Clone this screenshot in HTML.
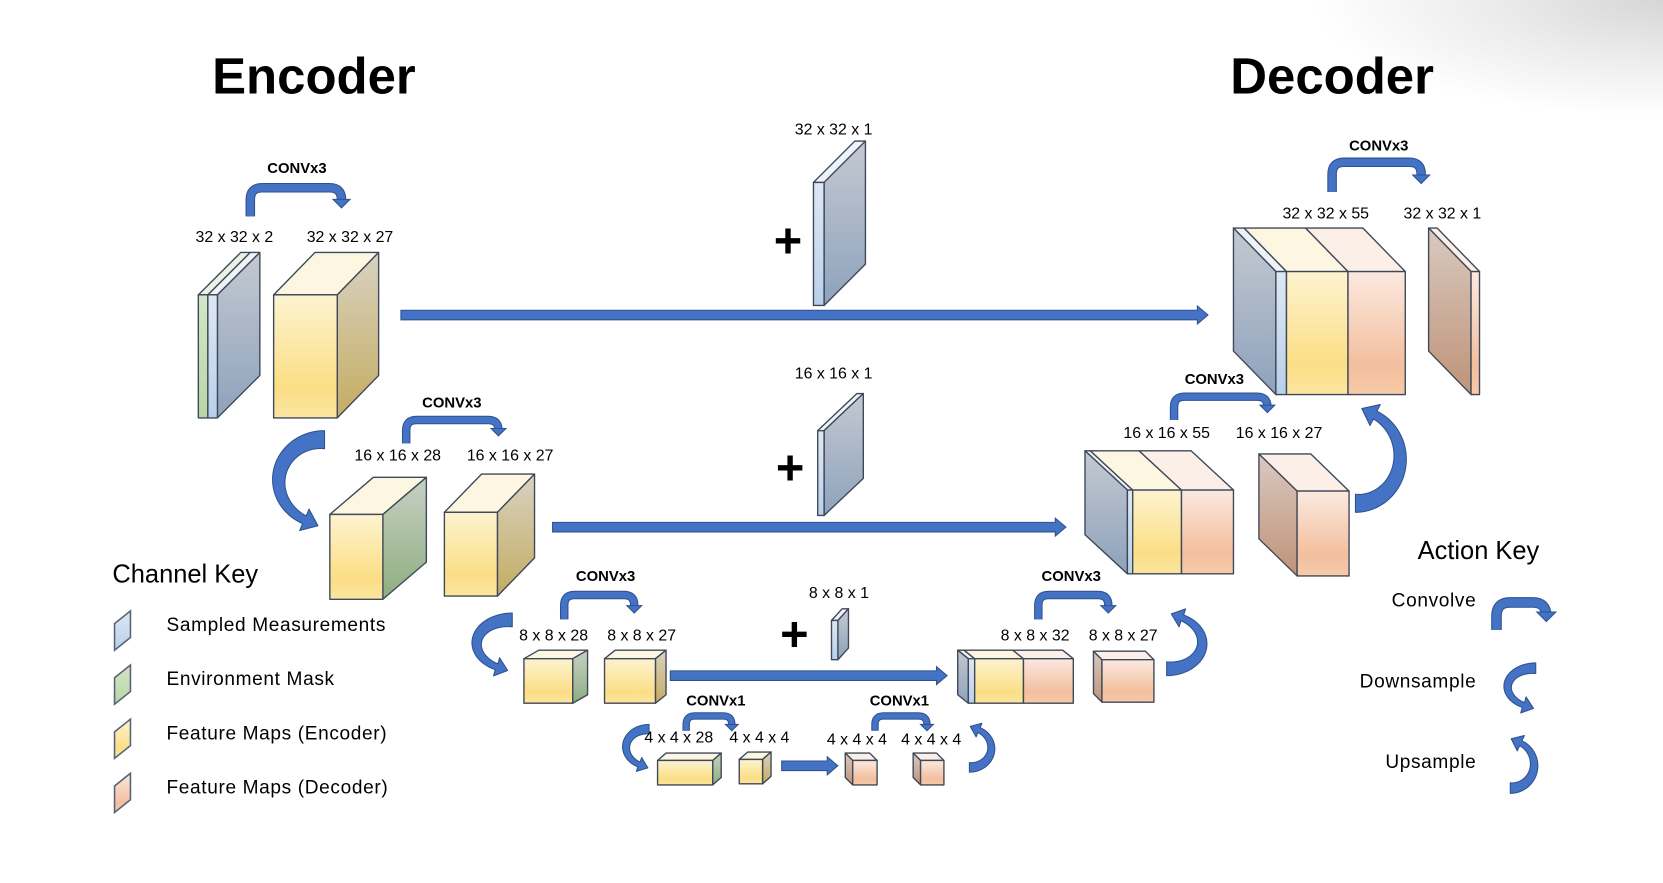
<!DOCTYPE html>
<html><head><meta charset="utf-8">
<style>
html,body{margin:0;padding:0;background:#fff;}
svg{display:block;}
text{font-family:"Liberation Sans",sans-serif;fill:#000;}
.l{font-size:15px;text-anchor:middle;}
.c{font-size:14px;font-weight:bold;text-anchor:middle;}
.k{font-size:18px;letter-spacing:0.6px;}
</style></head><body>
<svg id="s" width="1663" height="883" viewBox="0 0 1568 832.5" preserveAspectRatio="none" xmlns="http://www.w3.org/2000/svg">
<defs>
<radialGradient id="corner" cx="1568" cy="0" r="1" gradientTransform="translate(1568 0) scale(330 110) translate(-1568 0)" gradientUnits="userSpaceOnUse">
<stop offset="0" stop-color="#d6d6d6"/><stop offset="0.5" stop-color="#ececec"/><stop offset="1" stop-color="#fff"/></radialGradient>
<linearGradient id="fY" x1="0" y1="0" x2="0" y2="1"><stop offset="0" stop-color="#fdf3d0"/><stop offset="0.75" stop-color="#fbde85"/><stop offset="1" stop-color="#fbe5a0"/></linearGradient>
<linearGradient id="sY" x1="0" y1="0" x2="0" y2="1"><stop offset="0" stop-color="#d8d2c0"/><stop offset="1" stop-color="#c5ac62"/></linearGradient>
<linearGradient id="fO" x1="0" y1="0" x2="0" y2="1"><stop offset="0" stop-color="#fbe9e0"/><stop offset="0.75" stop-color="#f3bf9e"/><stop offset="1" stop-color="#f6caa8"/></linearGradient>
<linearGradient id="sO" x1="0" y1="0" x2="0" y2="1"><stop offset="0" stop-color="#d9c9c0"/><stop offset="1" stop-color="#bf9378"/></linearGradient>
<linearGradient id="sB" x1="0" y1="0" x2="0" y2="1"><stop offset="0" stop-color="#c4c9d1"/><stop offset="1" stop-color="#8ea2bc"/></linearGradient>
<linearGradient id="fG" x1="0" y1="0" x2="0" y2="1"><stop offset="0" stop-color="#d3e6c6"/><stop offset="1" stop-color="#b9d6a6"/></linearGradient>
<linearGradient id="sG" x1="0" y1="0" x2="0" y2="1"><stop offset="0" stop-color="#c7d0c4"/><stop offset="1" stop-color="#8fae80"/></linearGradient>
<linearGradient id="fL" x1="0" y1="0" x2="0" y2="1"><stop offset="0" stop-color="#dde8f4"/><stop offset="1" stop-color="#b9d0ea"/></linearGradient>
</defs>
<rect x="0" y="0" width="1568" height="832.5" fill="#fff"/>
<rect x="1200" y="0" width="368" height="120" fill="url(#corner)"/>

<text x="296" y="88" style="font-size:48px;font-weight:bold;text-anchor:middle">Encoder</text>
<text x="1256" y="88" style="font-size:48px;font-weight:bold;text-anchor:middle">Decoder</text>

<g id="g"></g>

<text class="c" x="280" y="163">CONVx3</text>
<text class="l" x="221" y="228">32 x 32 x 2</text>
<text class="l" x="330" y="228">32 x 32 x 27</text>
<text class="l" x="786" y="127">32 x 32 x 1</text>
<text x="743" y="243" style="font-size:46px;font-weight:bold;text-anchor:middle">+</text>
<text class="c" x="1300" y="142">CONVx3</text>
<text class="l" x="1250" y="206">32 x 32 x 55</text>
<text class="l" x="1360" y="206">32 x 32 x 1</text>

<text class="c" x="426" y="384">CONVx3</text>
<text class="l" x="375" y="434">16 x 16 x 28</text>
<text class="l" x="481" y="434">16 x 16 x 27</text>
<text class="l" x="786" y="357">16 x 16 x 1</text>
<text x="745" y="457" style="font-size:46px;font-weight:bold;text-anchor:middle">+</text>
<text class="c" x="1145" y="362">CONVx3</text>
<text class="l" x="1100" y="413">16 x 16 x 55</text>
<text class="l" x="1206" y="413">16 x 16 x 27</text>

<text class="c" x="571" y="548">CONVx3</text>
<text class="l" x="522" y="604">8 x 8 x 28</text>
<text class="l" x="605" y="604">8 x 8 x 27</text>
<text class="l" x="791" y="564">8 x 8 x 1</text>
<text x="749" y="614" style="font-size:46px;font-weight:bold;text-anchor:middle">+</text>
<text class="c" x="1010" y="548">CONVx3</text>
<text class="l" x="976" y="604">8 x 8 x 32</text>
<text class="l" x="1059" y="604">8 x 8 x 27</text>

<text class="c" x="675" y="665">CONVx1</text>
<text class="l" x="640" y="700">4 x 4 x 28</text>
<text class="l" x="716" y="700">4 x 4 x 4</text>
<text class="c" x="848" y="665">CONVx1</text>
<text class="l" x="808" y="702">4 x 4 x 4</text>
<text class="l" x="878" y="702">4 x 4 x 4</text>

<text x="106" y="549" style="font-size:24px">Channel Key</text>
<text class="k" x="157" y="595">Sampled Measurements</text>
<text class="k" x="157" y="646">Environment Mask</text>
<text class="k" x="157" y="697">Feature Maps (Encoder)</text>
<text class="k" x="157" y="748">Feature Maps (Decoder)</text>

<text x="1394" y="527" style="font-size:24px;text-anchor:middle">Action Key</text>
<text class="k" x="1392" y="572" style="text-anchor:end">Convolve</text>
<text class="k" x="1392" y="648" style="text-anchor:end">Downsample</text>
<text class="k" x="1392" y="724" style="text-anchor:end">Upsample</text>
</svg>
<script>
var NS="http://www.w3.org/2000/svg",G=document.getElementById("g");
function el(t,a){var e=document.createElementNS(NS,t);for(var k in a)e.setAttribute(k,a[k]);G.appendChild(e);return e;}
var ST="#3f4858";
function poly(p,f){el("polygon",{points:p.map(function(q){return q.join(",")}).join(" "),fill:f,stroke:ST,"stroke-width":1.3,"stroke-linejoin":"round"});}
function blk(x0,y,ws,h,dx,dy,fr,tp,side){
  var x=x0;
  for(var i=0;i<ws.length;i++){var w=ws[i];
    poly([[x,y],[x+w,y],[x+w+dx,y+dy],[x+dx,y+dy]],tp[i]);x+=w;}
  if(dx>0)poly([[x,y],[x+dx,y+dy],[x+dx,y+dy+h],[x,y+h]],side);
  else poly([[x0,y],[x0+dx,y+dy],[x0+dx,y+dy+h],[x0,y+h]],side);
  x=x0;
  for(var i=0;i<ws.length;i++){poly([[x,y],[x+ws[i],y],[x+ws[i],y+h],[x,y+h]],fr[i]);x+=ws[i];}
}
var Y="url(#fY)",SY="url(#sY)",O="url(#fO)",SO="url(#sO)",B="url(#sB)",GF="url(#fG)",SG="url(#sG)",L="url(#fL)";
var tY="#fdf7e2",tO="#fcefe8",tL="#eef3f9",tG="#eaf2e4";
blk(187,278,[9,9],116,40,-40,[GF,L],[tG,tL],B);
blk(258,278,[60],116,39,-40,[Y],[tY],SY);
blk(767,172,[10],116,39,-39,[L],[tL],B);
blk(1203,256,[10,58,54],116,-40,-41,[L,Y,O],[tL,tY,tO],B);
blk(1387,256,[8],116,-40,-41,[O],[tO],SO);
blk(311,485,[50],80,41,-35,[Y],[tY],SG);
blk(419,483,[50],79,35,-36,[Y],[tY],SY);
blk(771,406,[6],80,37,-35,[L],[tL],B);
blk(1063,462,[5,46,49],79,-40,-37,[L,Y,O],[tL,tY,tO],B);
blk(1223,463,[49],80,-36,-35,[O],[tO],SO);
blk(494,621,[46],42,14,-8,[Y],[tY],SG);
blk(570,621,[48],42,10,-8,[Y],[tY],SY);
blk(784,585,[6],37,10,-11,[L],[tL],B);
blk(913,621,[6,46,47],42,-10,-8,[L,Y,O],[tL,tY,tO],B);
blk(1039,622,[49],40,-8,-8,[O],[tO],SO);
blk(620,717,[52],23,8,-7,[Y],[tY],SG);
blk(697,716,[22],23,8,-7,[Y],[tY],SY);
blk(804,717,[23],23,-7,-7,[O],[tO],SO);
blk(868,717,[22],23,-7,-7,[O],[tO],SO);
var kf=[L,GF,Y,O];
for(var i=0;i<4;i++){var y=580+i*51;
  el("polygon",{points:(108)+","+(y+8)+" "+(123)+","+(y-4)+" "+(123)+","+(y+21)+" "+(108)+","+(y+33),fill:kf[i],stroke:"#5a6478","stroke-width":1.5});}
var BL="#4472c4",BD="#2f528f";
function arrowH(x1,x2,y,t){el("polygon",{points:[x1,y-t/2,x2-10,y-t/2,x2-10,y-t/2-4,x2,y,x2-10,y+t/2+4,x2-10,y+t/2,x1,y+t/2].join(","),fill:BL,stroke:BD,"stroke-width":1});}
arrowH(378,1139,297,9);
arrowH(521,1005,497,9);
arrowH(632,893,637,9);
arrowH(737,790,722,9);
function conv(x1,yb,yt,x2,yh,t,hw){
  var r=t*1.6;
  var d="M"+x1+","+yb+" V"+(yt+r)+" Q"+x1+","+yt+" "+(x1+r)+","+yt+" H"+(x2-r)+" Q"+x2+","+yt+" "+x2+","+(yt+r)+" V"+(yh-hw);
  el("path",{d:d,fill:"none",stroke:BD,"stroke-width":t+2});
  el("path",{d:d,fill:"none",stroke:BL,"stroke-width":t});
  el("polygon",{points:[x2-hw,yh-hw,x2+hw,yh-hw,x2,yh].join(","),fill:BL,stroke:BD,"stroke-width":1});
}
conv(236,204,177,322,196,7,8);
conv(383,418,396,470,411,6,7);
conv(1256,181,153,1340,173,7,8);
conv(1107,396,374,1195,389,6,7);
conv(532,584,561,598,578,6,7);
conv(979,584,561,1045,578,6,7);
conv(647,689,675,690,689,5,6);
conv(825,689,675,874,689,5,6);
conv(1411,594,568,1458,586,8,9);
function cres(cx,cy,rx,ry,a0,a1,t0,t1,hw,hl){
  var N=40,o=[],n=[],d=Math.PI/180;
  for(var i=0;i<=N;i++){var s=i/N,a=(a0+(a1-a0)*s)*d,w=t0+(t1-t0)*s;
    o.push([cx+rx*Math.cos(a),cy+ry*Math.sin(a)]);
    n.push([cx+(rx-w)*Math.cos(a),cy+(ry-w)*Math.sin(a)]);}
  var a=a1*d,w=t1,sg=a1>a0?1:-1,rm=[rx-w/2,ry-w/2];
  var mx=cx+rm[0]*Math.cos(a),my=cy+rm[1]*Math.sin(a);
  var tx=-rm[0]*Math.sin(a)*sg,ty=rm[1]*Math.cos(a)*sg,l=Math.hypot(tx,ty);tx/=l;ty/=l;
  var px=-ty,py=tx;
  var p=o.concat([[mx+px*hw,my+py*hw],[mx+tx*hl,my+ty*hl],[mx-px*hw,my-py*hw]]).concat(n.reverse());
  el("polygon",{points:p.map(function(q){return q.join(",")}).join(" "),fill:BL,stroke:BD,"stroke-width":1,"stroke-linejoin":"round"});
}
cres(306,452,49,46,270,115,17,8,11,14);
cres(1278,433,48,50,90,-65,17,8,11,14);
cres(483,606,38,28,270,115,13,6,9,11);
cres(1100,607,38,30,90,-65,13,6,9,11);
cres(612,704,25,21,270,115,9,5,7,9);
cres(914,706,24,22,90,-65,9,5,7,9);
cres(1448,647,30,22,270,115,10,5,8,10);
cres(1424,722,26,26,90,-65,10,5,8,10);
</script>
</body></html>
